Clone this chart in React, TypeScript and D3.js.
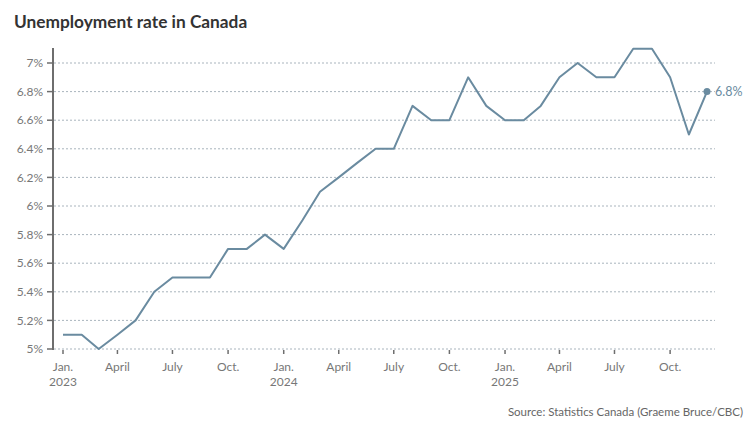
import { useEffect, useRef } from 'react';
import * as d3 from 'd3';

// Monthly unemployment rate, Jan. 2023 – Dec. 2025
const months: string[] = [
  '2023-01', '2023-02', '2023-03', '2023-04', '2023-05', '2023-06',
  '2023-07', '2023-08', '2023-09', '2023-10', '2023-11', '2023-12',
  '2024-01', '2024-02', '2024-03', '2024-04', '2024-05', '2024-06',
  '2024-07', '2024-08', '2024-09', '2024-10', '2024-11', '2024-12',
  '2025-01', '2025-02', '2025-03', '2025-04', '2025-05', '2025-06',
  '2025-07', '2025-08', '2025-09', '2025-10', '2025-11', '2025-12',
];
const rates: number[] = [
  5.1, 5.1, 5.0, 5.1, 5.2, 5.4, 5.5, 5.5, 5.5, 5.7, 5.7, 5.8,
  5.7, 5.9, 6.1, 6.2, 6.3, 6.4, 6.4, 6.7, 6.6, 6.6, 6.9, 6.7,
  6.6, 6.6, 6.7, 6.9, 7.0, 6.9, 6.9, 7.1, 7.1, 6.9, 6.5, 6.8,
];
const yTicks: number[] = [5, 5.2, 5.4, 5.6, 5.8, 6, 6.2, 6.4, 6.6, 6.8, 7];
const monthNames: Record<number, string> = { 0: 'Jan.', 3: 'April', 6: 'July', 9: 'Oct.' };

const title = 'Unemployment rate in Canada';
const source = 'Source: Statistics Canada (Graeme Bruce/CBC)';

const FONT = 'Lato, sans-serif';
const LINE = '#6a8ba0';

export default function App() {
  const svgRef = useRef<SVGSVGElement | null>(null);

  useEffect(() => {
    if (!svgRef.current) return;
    const width = 751;
    const height = 427;

    const svg = d3.select(svgRef.current);
    svg.selectAll('*').remove();

    const data = months.map((m, i) => ({ date: d3.timeParse('%Y-%m')(m)!, value: rates[i] }));

    const x = d3
      .scaleTime()
      .domain([data[0].date, data[data.length - 1].date])
      .range([63, 707]);
    const y = d3.scaleLinear().domain([5, 7]).range([349, 63]);

    // Title
    svg.append('text')
      .attr('x', 14)
      .attr('y', 28)
      .attr('font-family', FONT)
      .attr('font-size', '17.3px')
      .attr('font-weight', 'bold')
      .attr('fill', '#333')
      .text(title);

    // Grid lines
    svg.selectAll('.grid')
      .data(yTicks)
      .enter()
      .append('line')
      .attr('x1', 54)
      .attr('x2', 715)
      .attr('y1', (d) => y(d))
      .attr('y2', (d) => y(d))
      .attr('stroke', '#a9b4bd')
      .attr('stroke-width', 1)
      .attr('stroke-dasharray', '2,2');

    // Y axis
    svg.append('line')
      .attr('x1', 53)
      .attr('x2', 53)
      .attr('y1', 48)
      .attr('y2', 350)
      .attr('stroke', '#6e6e6e')
      .attr('stroke-width', 2);

    const yg = svg.append('g');
    yg.selectAll('line')
      .data(yTicks)
      .enter()
      .append('line')
      .attr('x1', 47)
      .attr('x2', 53)
      .attr('y1', (d) => y(d))
      .attr('y2', (d) => y(d))
      .attr('stroke', '#6e6e6e')
      .attr('stroke-width', 1.5);
    yg.selectAll('text')
      .data(yTicks)
      .enter()
      .append('text')
      .attr('x', 43)
      .attr('y', (d) => y(d))
      .attr('dy', '0.35em')
      .attr('text-anchor', 'end')
      .attr('font-family', FONT)
      .attr('font-size', '12px')
      .attr('fill', '#777')
      .text((d) => `${d3.format('~g')(d)}%`);

    // X axis ticks (quarterly)
    const xTicks = x.ticks(d3.timeMonth.every(3)!);
    const xg = svg.append('g');
    xg.selectAll('line')
      .data(xTicks)
      .enter()
      .append('line')
      .attr('x1', (d) => x(d))
      .attr('x2', (d) => x(d))
      .attr('y1', 350)
      .attr('y2', 354)
      .attr('stroke', '#6e6e6e')
      .attr('stroke-width', 1.5);
    xg.selectAll('text.m')
      .data(xTicks)
      .enter()
      .append('text')
      .attr('class', 'm')
      .attr('x', (d) => x(d))
      .attr('y', 371)
      .attr('text-anchor', 'middle')
      .attr('font-family', FONT)
      .attr('font-size', '12px')
      .attr('fill', '#777')
      .text((d) => monthNames[d.getMonth()]);
    xg.selectAll('text.yr')
      .data(xTicks.filter((d) => d.getMonth() === 0))
      .enter()
      .append('text')
      .attr('class', 'yr')
      .attr('x', (d) => x(d))
      .attr('y', 386)
      .attr('text-anchor', 'middle')
      .attr('font-family', FONT)
      .attr('font-size', '12px')
      .attr('fill', '#777')
      .text((d) => d.getFullYear());

    // Line
    const line = d3
      .line<(typeof data)[0]>()
      .x((d) => x(d.date))
      .y((d) => y(d.value));
    svg.append('path')
      .datum(data)
      .attr('fill', 'none')
      .attr('stroke', LINE)
      .attr('stroke-width', 2)
      .attr('stroke-linejoin', 'round')
      .attr('d', line);

    // End point + label
    const last = data[data.length - 1];
    svg.append('circle')
      .attr('cx', x(last.date))
      .attr('cy', y(last.value))
      .attr('r', 3.5)
      .attr('fill', LINE);
    svg.append('text')
      .attr('x', x(last.date) + 8)
      .attr('y', y(last.value))
      .attr('dy', '0.35em')
      .attr('font-family', FONT)
      .attr('font-size', '12.5px')
      .attr('fill', LINE)
      .text(`${last.value.toFixed(1)}%`);

    // Source
    svg.append('text')
      .attr('x', width - 8)
      .attr('y', height - 11)
      .attr('text-anchor', 'end')
      .attr('font-family', FONT)
      .attr('font-size', '11.5px')
      .attr('fill', '#666')
      .text(source);
  }, []);

  return (
    <svg
      ref={svgRef}
      width={751}
      height={427}
      style={{ position: 'absolute', left: 0, top: 0, background: '#fff' }}
    />
  );
}
